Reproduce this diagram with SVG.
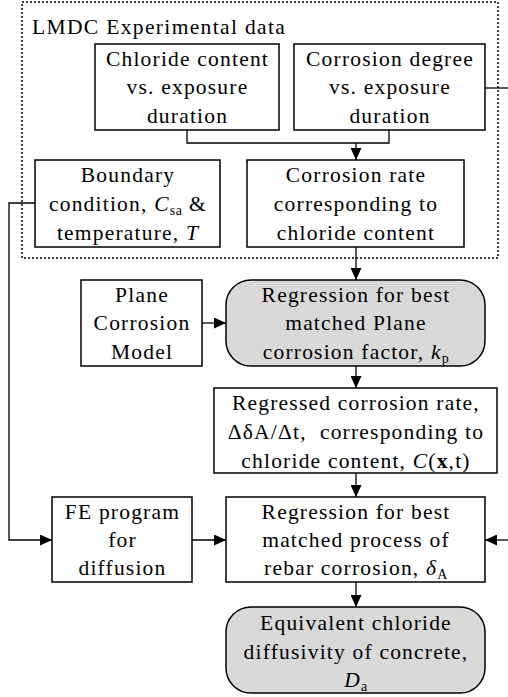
<svg xmlns="http://www.w3.org/2000/svg" width="508" height="697" viewBox="0 0 508 697" font-family="Liberation Serif, Times New Roman, serif">
<defs>
<marker id="ah" markerUnits="userSpaceOnUse" markerWidth="12" markerHeight="11" refX="12" refY="5.5" orient="auto">
<path d="M0 0 L12 5.5 L0 11 z" fill="#000"/>
</marker>
<style>
text{font-family:'Liberation Serif','Times New Roman',serif}
.t{font-size:21.5px;letter-spacing:1.2px;text-anchor:middle;fill:#000}
.s{font-size:14px;letter-spacing:0.6px}
.box{fill:#fff;stroke:#000;stroke-width:1.5}
.rbox{fill:#d9d9d9;stroke:#000;stroke-width:1.5}
.c{fill:none;stroke:#000;stroke-width:1.3}
.a{marker-end:url(#ah)}
</style>
</defs>
<rect width="508" height="697" fill="#fff"/>

<g id="lmdc">
<rect x="22" y="2" width="476" height="256" fill="none" stroke="#000" stroke-width="1.5" stroke-dasharray="2,2"/>
<text class="t" style="text-anchor:start;letter-spacing:1.35px" x="32" y="34">LMDC Experimental data</text>
</g>

<g id="connectors">
<path class="c" d="M187 130 V143 H389 V130"/>
<path class="c a" d="M356 143 V160"/>
<path class="c" d="M485 88 H508"/>
<path class="c a" d="M356 247 V280"/>
<path class="c a" d="M202 323 H226"/>
<path class="c a" d="M356 366 V388"/>
<path class="c a" d="M356 473 V497"/>
<path class="c a" d="M35 203 H9 V540 H52"/>
<path class="c a" d="M192 540 H226"/>
<path class="c a" d="M508 540 H485"/>
<path class="c a" d="M356 582 V607"/>
</g>

<g id="chloride">
<rect class="box" x="95" y="44" width="184" height="86"/>
<text class="t" x="187.5" y="65.5">Chloride content</text>
<text class="t" x="187.5" y="94">vs. exposure</text>
<text class="t" x="187.5" y="122.5">duration</text>
</g>

<g id="corrdegree">
<rect class="box" x="294" y="44" width="191" height="86"/>
<text class="t" x="390" y="65.5">Corrosion degree</text>
<text class="t" x="390" y="94">vs. exposure</text>
<text class="t" x="390" y="122.5">duration</text>
</g>

<g id="boundary">
<rect class="box" x="35" y="160" width="185" height="87"/>
<text class="t" x="128" y="182">Boundary</text>
<text class="t" x="128" y="211">condition, <tspan font-style="italic">C</tspan><tspan class="s" dy="4">sa</tspan><tspan dy="-4"> &amp;</tspan></text>
<text class="t" x="128" y="239.5">temperature, <tspan font-style="italic">T</tspan></text>
</g>

<g id="corrrate">
<rect class="box" x="247" y="160" width="217" height="87"/>
<text class="t" x="356" y="182">Corrosion rate</text>
<text class="t" x="356" y="211">corresponding to</text>
<text class="t" x="356" y="239.5">chloride content</text>
</g>

<g id="plane">
<rect class="box" x="81" y="280" width="121" height="86"/>
<text class="t" x="142" y="301.5">Plane</text>
<text class="t" x="142" y="330">Corrosion</text>
<text class="t" x="142" y="358.5">Model</text>
</g>

<g id="regkp">
<rect class="rbox" x="226" y="280" width="259" height="86" rx="25" ry="25"/>
<text class="t" x="356" y="301.5">Regression for best</text>
<text class="t" x="356" y="330">matched Plane</text>
<text class="t" x="356" y="358.5">corrosion factor, <tspan font-style="italic">k</tspan><tspan class="s" dy="4">p</tspan></text>
</g>

<g id="regressed">
<rect class="box" x="214" y="388" width="283" height="85"/>
<text class="t" x="356" y="410">Regressed corrosion rate,</text>
<text class="t" x="356" y="439">ΔδA/Δt,&#160; corresponding to</text>
<text class="t" x="356" y="467.5">chloride content, <tspan font-style="italic">C</tspan>(<tspan font-weight="bold">x</tspan>,t)</text>
</g>

<g id="fe">
<rect class="box" x="52" y="497" width="140" height="85"/>
<text class="t" x="122.5" y="518.5">FE program</text>
<text class="t" x="122.5" y="547">for</text>
<text class="t" x="122.5" y="575">diffusion</text>
</g>

<g id="regdelta">
<rect class="box" x="226" y="497" width="259" height="85"/>
<text class="t" x="356" y="518.5">Regression for best</text>
<text class="t" x="356" y="547">matched process of</text>
<text class="t" x="356" y="575">rebar corrosion, <tspan font-style="italic">δ</tspan><tspan class="s" dy="4">A</tspan></text>
</g>

<g id="equiv">
<rect class="rbox" x="226" y="607" width="259" height="86" rx="25" ry="25"/>
<text class="t" x="356" y="630">Equivalent chloride</text>
<text class="t" x="356" y="658.5">diffusivity of concrete,</text>
<text class="t" x="356" y="686.5"><tspan font-style="italic">D</tspan><tspan class="s" dy="4">a</tspan></text>
</g>
</svg>
